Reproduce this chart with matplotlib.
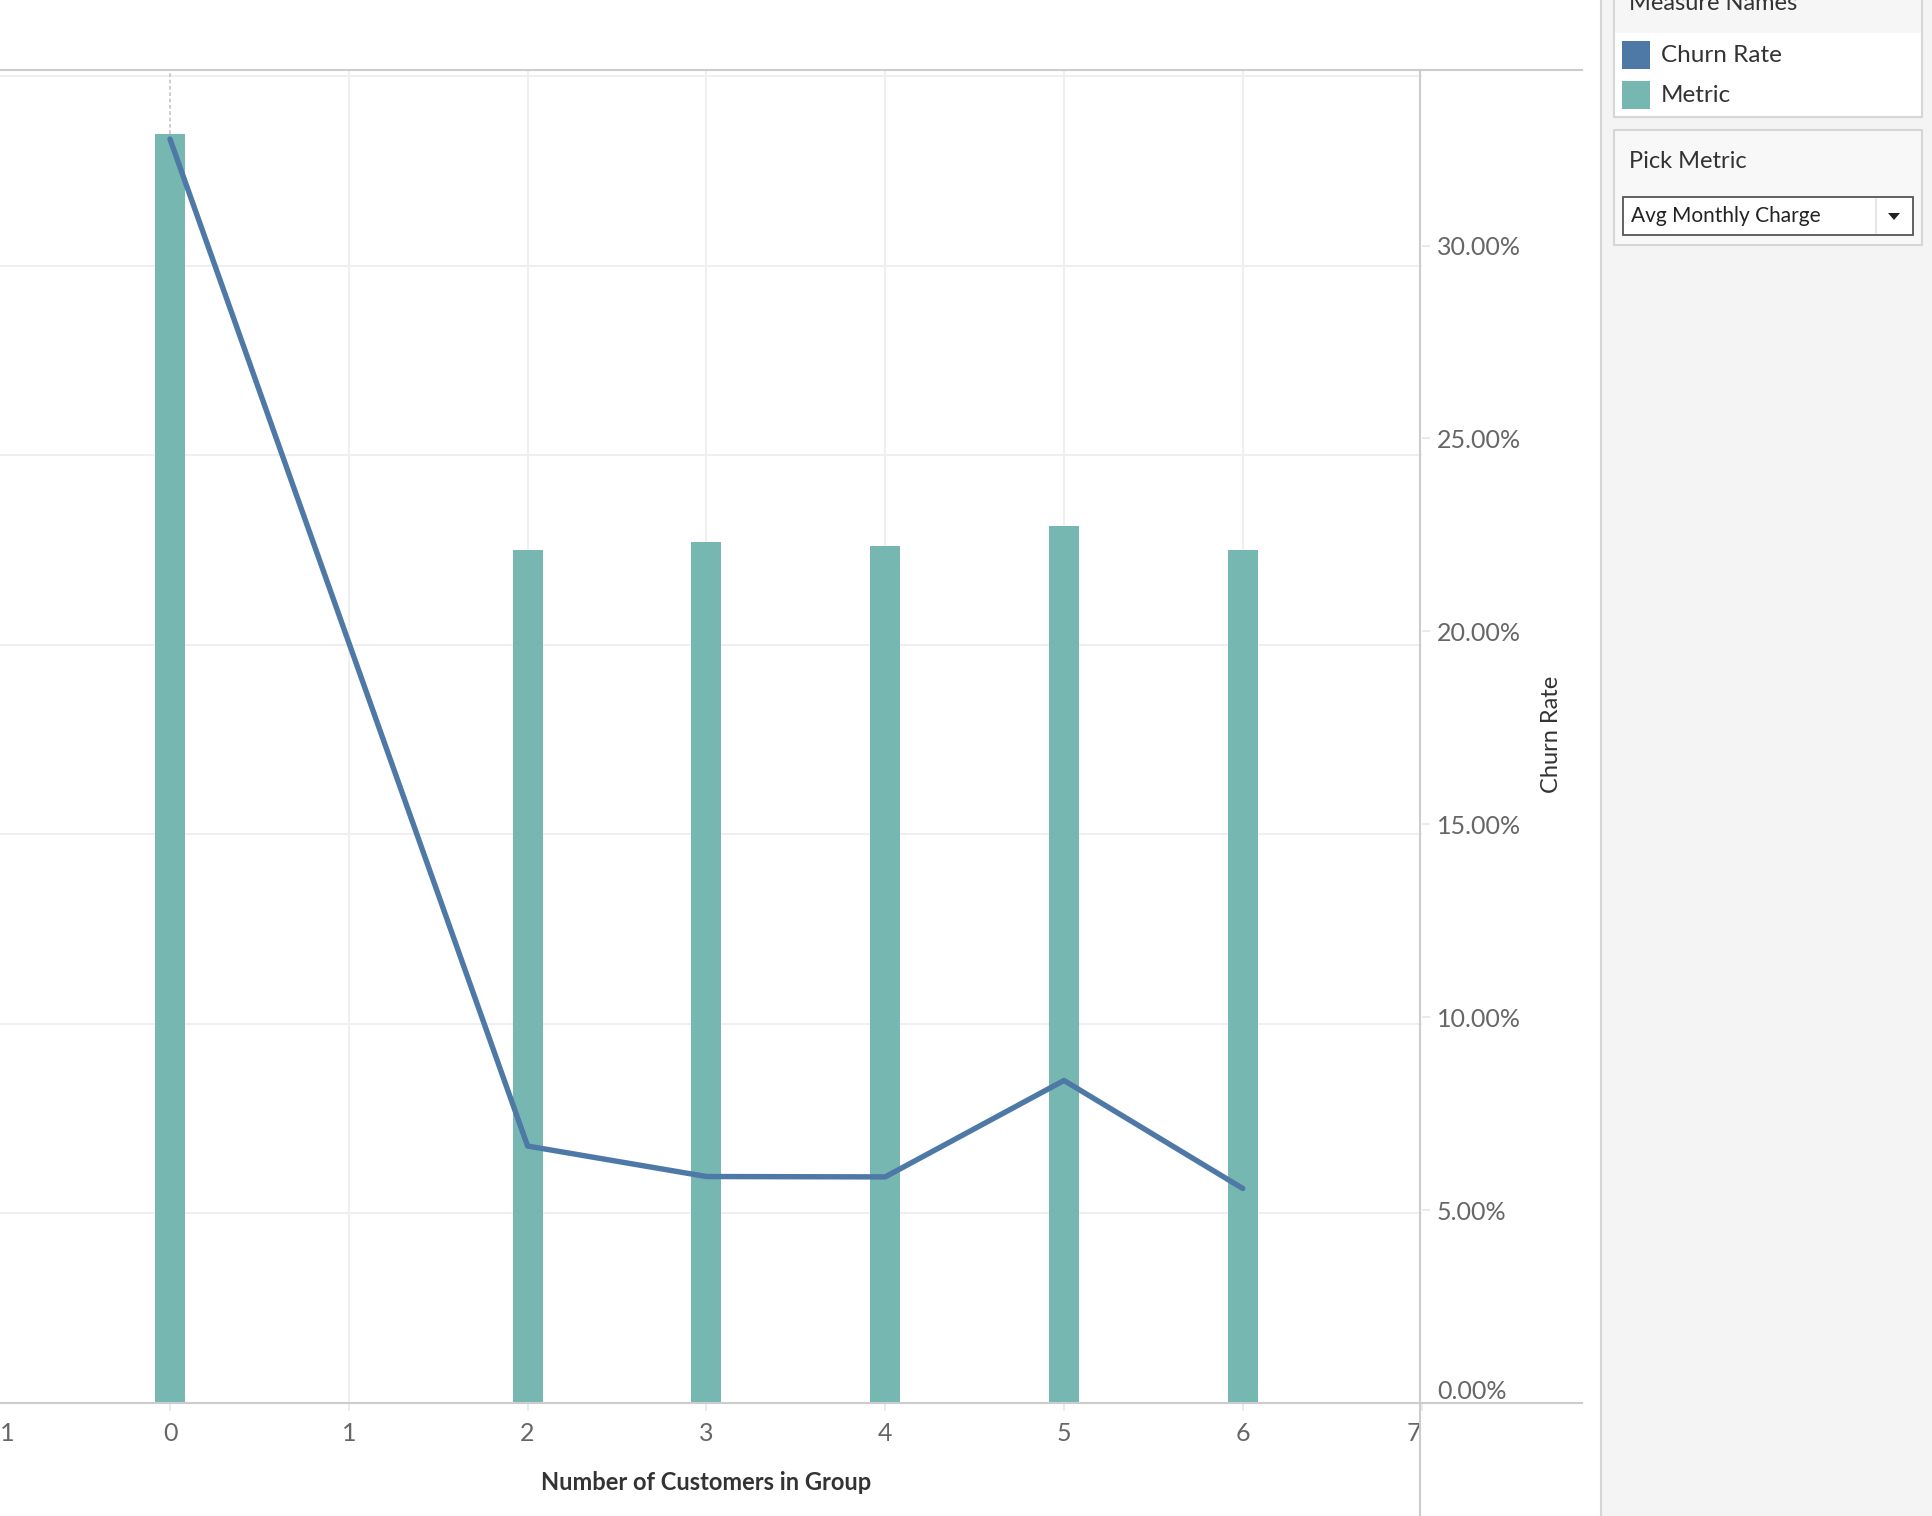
import matplotlib

matplotlib.use("Agg")

import matplotlib.pyplot as plt
from matplotlib.lines import Line2D
from matplotlib.patches import Polygon, Rectangle

# data
group_sizes = [0, 2, 3, 4, 5, 6]
metric_values = [66.97, 45.01, 45.44, 45.22, 46.28, 45.01]  # Avg Monthly Charge
churn_rate = [32.76, 6.66, 5.87, 5.86, 8.36, 5.56]  # percent
x_ticks = [-1, 0, 1, 2, 3, 4, 5, 6, 7]
x_tick_labels = ["-1", "0", "1", "2", "3", "4", "5", "6", "7"]
churn_ticks = [0, 5, 10, 15, 20, 25, 30]
metric_grid = [10, 20, 30, 40, 50, 60, 70]
legend_items = ["Churn Rate", "Metric"]

BLUE = "#4e79a7"
TEAL = "#76b7b2"
GRID = "#efefef"
FRAME = "#cccccc"
TICK_TXT = "#666666"
TITLE_TXT = "#333333"

W, H = 1932, 1516
plt.rcParams["font.family"] = ["Lato", "DejaVu Sans"]

fig = plt.figure(figsize=(W / 100, H / 100), dpi=100)


def fx(px):
    return px / W


def fy(py):
    return 1 - py / H


# main plot area (left part is cut off in the reference)
x0_px, unit_px = 170.0, 178.8
xmin, xmax = -1.05, 7.0
left_px = x0_px + xmin * unit_px
right_px = x0_px + xmax * unit_px
top_px, base_px = 70.0, 1403.0

ax = fig.add_axes([fx(left_px), fy(base_px), (right_px - left_px) / W, (base_px - top_px) / H])
ax.set_xlim(xmin, xmax)
ax.set_ylim(0, 70.34)

ax.bar(group_sizes, metric_values, width=0.168, color=TEAL, zorder=2)
ax.vlines(group_sizes[0], metric_values[0], ax.get_ylim()[1], colors="#c4c4c4",
          linestyles=(0, (2.2, 1.6)), linewidth=1.2, zorder=1)

ax.set_yticks(metric_grid)
ax.set_xticks(x_ticks)
ax.set_xticklabels(x_tick_labels)
for v in x_ticks[2:-1]:
    ax.axvline(v, color=GRID, linewidth=1.4, zorder=0)
for v in metric_grid:
    ax.axhline(v, color=GRID, linewidth=1.4, zorder=0)
ax.tick_params(axis="y", left=False, labelleft=False)
ax.tick_params(axis="x", length=6, width=1.2, color="#e8e8e8", pad=8,
               labelsize=18, labelcolor=TICK_TXT)
ax.get_xticklabels()[0].set_ha("left")
ax.get_xticklabels()[-1].set_ha("right")
for s in ax.spines.values():
    s.set_visible(False)

ax2 = ax.twinx()
ax2.set_ylim(0, 34.55)
ax2.plot(group_sizes, churn_rate, color=BLUE, linewidth=3.9,
         solid_capstyle="round", solid_joinstyle="round", zorder=3)
ax2.set_yticks(churn_ticks)
ax2.set_yticklabels([f"{v:.2f}%" for v in churn_ticks])
ax2.tick_params(axis="y", length=6, width=1.2, color="#e8e8e8", pad=5,
                labelsize=18, labelcolor=TICK_TXT)
ax2.get_yticklabels()[0].set_va("bottom")
for s in ax2.spines.values():
    s.set_visible(False)

# frame lines, side panel, legend and parameter control drawn in pixel space
ov = fig.add_axes([0, 0, 1, 1], zorder=5)
ov.set_xlim(0, W)
ov.set_ylim(H, 0)
ov.axis("off")
ov.patch.set_alpha(0)

ov.add_line(Line2D([0, 1582], [top_px, top_px], color=FRAME, linewidth=1.5))
ov.add_line(Line2D([0, 1582], [base_px, base_px], color=FRAME, linewidth=1.5))
ov.add_line(Line2D([1420, 1420], [top_px, H], color=FRAME, linewidth=1.5))

ov.text(706, 1482, "Number of Customers in Group", ha="center", va="center",
        fontsize=17, fontweight="bold", color=TITLE_TXT)
ov.text(1552, 734, "Churn Rate", ha="center", va="center", rotation=90,
        fontsize=17, color=TITLE_TXT)

# side panel
ov.add_patch(Rectangle((1601, 0), W - 1601, H, facecolor="#f4f4f4", edgecolor="none"))
ov.add_line(Line2D([1601, 1601], [0, H], color="#d6d6d6", linewidth=1.5))

# legend card
ov.add_patch(Rectangle((1614, -10), 308, 127, facecolor="white", edgecolor="#d6d6d6", linewidth=1.5))
ov.add_patch(Rectangle((1615, -10), 306, 43, facecolor="#f6f6f6", edgecolor="none"))
ov.text(1629, 4, "Measure Names", ha="left", va="center", fontsize=17, color=TITLE_TXT)
for i, (name, col) in enumerate(zip(legend_items, [BLUE, TEAL])):
    yc = 55 + i * 40
    ov.add_patch(Rectangle((1622, yc - 14), 28, 28, facecolor=col, edgecolor="none"))
    ov.text(1661, yc, name, ha="left", va="center", fontsize=17.5, color=TITLE_TXT)

# parameter control
ov.add_patch(Rectangle((1614, 130), 308, 115, facecolor="#f8f8f8", edgecolor="#d6d6d6", linewidth=1.5))
ov.text(1629, 162, "Pick Metric", ha="left", va="center", fontsize=17, color=TITLE_TXT)
ov.add_patch(Rectangle((1623, 197), 290, 38, facecolor="white", edgecolor="#555555", linewidth=1.3))
ov.add_line(Line2D([1876, 1876], [199, 233], color="#e2e2e2", linewidth=1.2))
ov.add_patch(Polygon([[1888, 213], [1900, 213], [1894, 220]], closed=True,
                     facecolor="#222222", edgecolor="none"))
ov.text(1631, 216, "Avg Monthly Charge", ha="left", va="center", fontsize=15, color="#222222")

fig.savefig("out.png", dpi=100)
plt.close(fig)
